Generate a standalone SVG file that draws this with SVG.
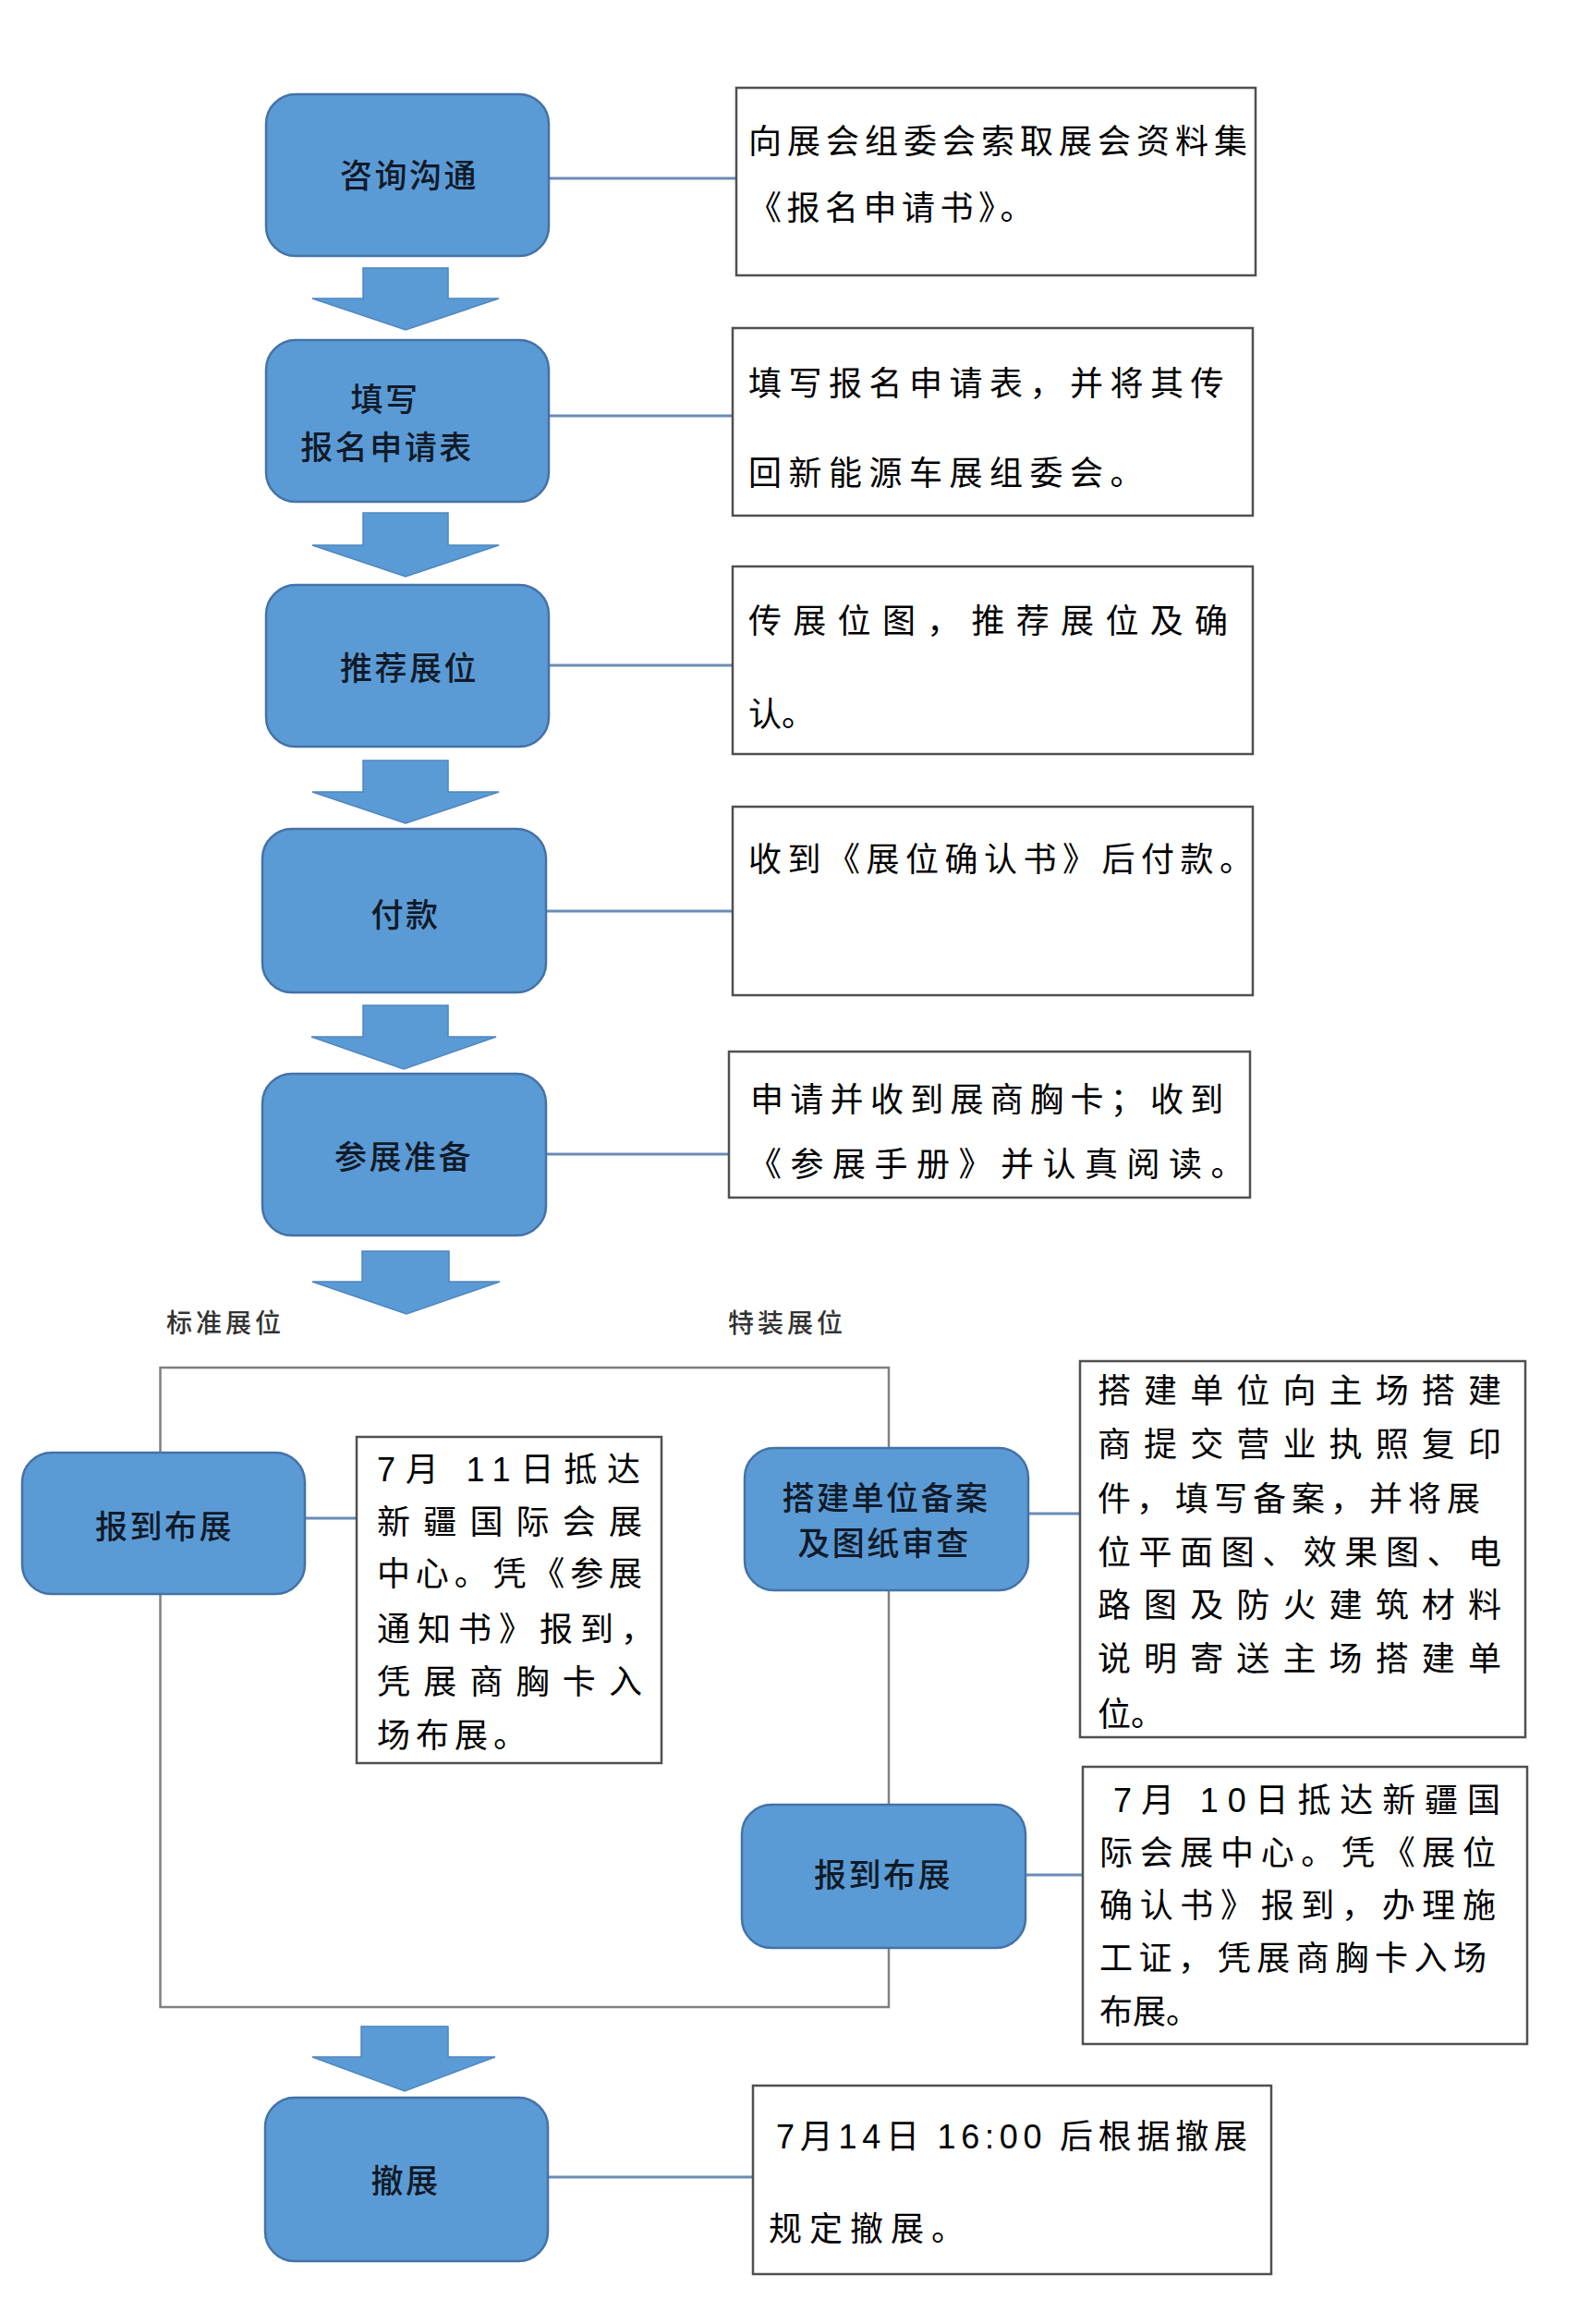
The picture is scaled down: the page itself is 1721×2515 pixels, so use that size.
<svg xmlns="http://www.w3.org/2000/svg" width="1721" height="2515" viewBox="0 0 1721 2515">
<style>
text{font-family:"Noto Sans CJK SC","Noto Sans",sans-serif;}
.node{fill:#5b9bd5;stroke:#4472a8;stroke-width:2.5;}
.nt{font-size:35px;fill:#101a28;text-anchor:middle;letter-spacing:2.5px;font-weight:500;}
.box{fill:#ffffff;stroke:#505050;stroke-width:2.5;}
.bt{font-size:36px;fill:#000000;}
.num{font-family:"Liberation Sans","Noto Sans CJK SC",sans-serif;}
.lbl{font-size:28px;fill:#333333;letter-spacing:4px;font-weight:500;}
.cl{stroke:#6a8cb6;stroke-width:3;fill:none;}
.br{stroke:#808080;stroke-width:2.5;fill:none;}
.arr{fill:#5b9bd5;stroke:#4f86c0;stroke-width:1.5;}
</style>
<rect x="0" y="0" width="1721" height="2515" fill="#ffffff"/>

<g id="connectors">
  <rect class="br" x="173.5" y="1480" width="788.5" height="692"/>
  <line class="cl" x1="594" y1="193" x2="797" y2="193"/>
  <line class="cl" x1="594" y1="450" x2="793" y2="450"/>
  <line class="cl" x1="594" y1="720" x2="793" y2="720"/>
  <line class="cl" x1="591" y1="986" x2="793" y2="986"/>
  <line class="cl" x1="591" y1="1249" x2="789" y2="1249"/>
  <line class="cl" x1="330" y1="1643" x2="386" y2="1643"/>
  <line class="cl" x1="1113" y1="1638" x2="1169" y2="1638"/>
  <line class="cl" x1="1110" y1="2029" x2="1172" y2="2029"/>
  <line class="cl" x1="593" y1="2356" x2="815" y2="2356"/>
  <polygon class="arr" points="393,290 485,290 485,323 540,323 439,357 338,323 393,323"/>
  <polygon class="arr" points="393,555 485,555 485,590 540,590 439,624 338,590 393,590"/>
  <polygon class="arr" points="393,823 485,823 485,857 540,857 439,891 338,857 393,857"/>
  <polygon class="arr" points="393,1088 485,1088 485,1122 537,1122 437,1157 337,1122 393,1122"/>
  <polygon class="arr" points="392,1354 486,1354 486,1387 541,1387 440,1422 338,1387 392,1387"/>
  <polygon class="arr" points="391,2193 485,2193 485,2226 536,2226 438,2263 338,2226 391,2226"/>
</g>

<g id="label-standard"><text class="lbl" x="180" y="1442">标准展位</text></g>
<g id="label-special"><text class="lbl" x="788" y="1442">特装展位</text></g>

<g id="node-consult">
  <rect class="node" x="288" y="102" width="306" height="175" rx="32"/>
  <text class="nt" x="443" y="203">咨询沟通</text>
</g>
<g id="note-consult">
  <rect class="box" x="797" y="95" width="562" height="203"/>
  <text class="bt" x="810" y="166" textLength="540" lengthAdjust="spacing">向展会组委会索取展会资料集</text>
  <text class="bt" x="810" y="238" letter-spacing="5.5">《报名申请书》。</text>
</g>

<g id="node-apply">
  <rect class="node" x="288" y="368" width="306" height="175" rx="32"/>
  <text class="nt" x="417" y="445">填写</text>
  <text class="nt" x="419" y="497">报名申请表</text>
</g>
<g id="note-apply">
  <rect class="box" x="793" y="355" width="563" height="203"/>
  <text class="bt" x="810" y="428" letter-spacing="7.5">填写报名申请表，并将其传</text>
  <text class="bt" x="810" y="525" letter-spacing="7.5">回新能源车展组委会。</text>
</g>

<g id="node-booth">
  <rect class="node" x="288" y="633" width="306" height="175" rx="32"/>
  <text class="nt" x="443" y="736">推荐展位</text>
</g>
<g id="note-booth">
  <rect class="box" x="793" y="613" width="563" height="203"/>
  <text class="bt" x="810" y="685" textLength="519" lengthAdjust="spacing">传展位图，推荐展位及确</text>
  <text class="bt" x="810" y="786">认。</text>
</g>

<g id="node-pay">
  <rect class="node" x="284" y="897" width="307" height="177" rx="32"/>
  <text class="nt" x="439" y="1003">付款</text>
</g>
<g id="note-pay">
  <rect class="box" x="793" y="873" width="563" height="204"/>
  <text class="bt" x="810" y="943" letter-spacing="6.5">收到《展位确认书》后付款。</text>
</g>

<g id="node-prepare">
  <rect class="node" x="284" y="1162" width="307" height="175" rx="32"/>
  <text class="nt" x="437" y="1265">参展准备</text>
</g>
<g id="note-prepare">
  <rect class="box" x="789" y="1138" width="564" height="158"/>
  <text class="bt" x="812" y="1203" letter-spacing="7.3">申请并收到展商胸卡；收到</text>
  <text class="bt" x="810" y="1273" letter-spacing="9.5">《参展手册》并认真阅读。</text>
</g>

<g id="node-std-setup">
  <rect class="node" x="24" y="1572" width="306" height="153" rx="32"/>
  <text class="nt" x="178" y="1665">报到布展</text>
</g>
<g id="note-std-setup">
  <rect class="box" x="386" y="1555" width="330" height="353"/>
  <text class="bt" x="408" y="1603" textLength="285" lengthAdjust="spacing"><tspan class="num">7</tspan>月 <tspan class="num">11</tspan>日抵达</text>
  <text class="bt" x="408" y="1660" textLength="287" lengthAdjust="spacing">新疆国际会展</text>
  <text class="bt" x="408" y="1716" textLength="287" lengthAdjust="spacing">中心。凭《参展</text>
  <text class="bt" x="408" y="1776" textLength="300" lengthAdjust="spacing">通知书》报到，</text>
  <text class="bt" x="408" y="1833" textLength="287" lengthAdjust="spacing">凭展商胸卡入</text>
  <text class="bt" x="408" y="1891" letter-spacing="6">场布展。</text>
</g>

<g id="node-builder">
  <rect class="node" x="806" y="1567" width="307" height="154" rx="32"/>
  <text class="nt" x="959" y="1634">搭建单位备案</text>
  <text class="nt" x="957" y="1683">及图纸审查</text>
</g>
<g id="note-builder">
  <rect class="box" x="1169" y="1473" width="482" height="407"/>
  <text class="bt" x="1188" y="1518" textLength="437" lengthAdjust="spacing">搭建单位向主场搭建</text>
  <text class="bt" x="1188" y="1576" textLength="437" lengthAdjust="spacing">商提交营业执照复印</text>
  <text class="bt" x="1188" y="1635" textLength="414" lengthAdjust="spacing">件，填写备案，并将展</text>
  <text class="bt" x="1188" y="1693" textLength="437" lengthAdjust="spacing">位平面图、效果图、电</text>
  <text class="bt" x="1188" y="1750" textLength="437" lengthAdjust="spacing">路图及防火建筑材料</text>
  <text class="bt" x="1188" y="1808" textLength="437" lengthAdjust="spacing">说明寄送主场搭建单</text>
  <text class="bt" x="1188" y="1868">位。</text>
</g>

<g id="node-special-setup">
  <rect class="node" x="803" y="1953" width="307" height="155" rx="32"/>
  <text class="nt" x="956" y="2042">报到布展</text>
</g>
<g id="note-special-setup">
  <rect class="box" x="1172" y="1912" width="481" height="300"/>
  <text class="bt" x="1205" y="1961" textLength="419" lengthAdjust="spacing"><tspan class="num">7</tspan>月 <tspan class="num">10</tspan>日抵达新疆国</text>
  <text class="bt" x="1190" y="2018" textLength="429" lengthAdjust="spacing">际会展中心。凭《展位</text>
  <text class="bt" x="1190" y="2075" textLength="429" lengthAdjust="spacing">确认书》报到，办理施</text>
  <text class="bt" x="1190" y="2132" textLength="419" lengthAdjust="spacing">工证，凭展商胸卡入场</text>
  <text class="bt" x="1190" y="2190">布展。</text>
</g>

<g id="node-dismantle">
  <rect class="node" x="287" y="2270" width="306" height="177" rx="32"/>
  <text class="nt" x="439" y="2373">撤展</text>
</g>
<g id="note-dismantle">
  <rect class="box" x="815" y="2257" width="561" height="204"/>
  <text class="bt" x="840" y="2325" textLength="510" lengthAdjust="spacing"><tspan class="num">7</tspan>月<tspan class="num">14</tspan>日 <tspan class="num">16:00</tspan> 后根据撤展</text>
  <text class="bt" x="832" y="2425" letter-spacing="8">规定撤展。</text>
</g>
</svg>
